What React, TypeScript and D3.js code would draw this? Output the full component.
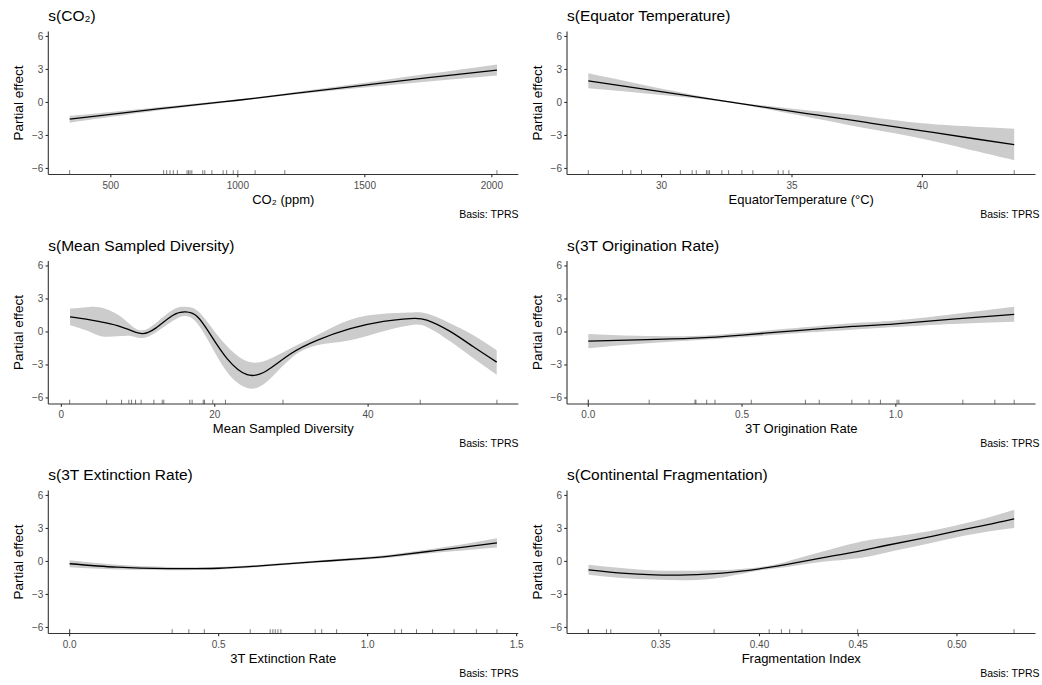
import React from "react";
import * as d3 from "d3";

// ---------- Panel 1: CO2 ----------
const co2X = [338, 500, 750, 1000, 1250, 1500, 1750, 2020];
const co2Fit = [-1.52, -1.08, -0.42, 0.2, 0.9, 1.58, 2.25, 2.94];
const co2Lo = [-1.84, -1.3, -0.54, 0.12, 0.78, 1.36, 1.9, 2.44];
const co2Hi = [-1.22, -0.86, -0.3, 0.28, 1.02, 1.8, 2.6, 3.46];
const co2Rug = [338, 708, 720, 733, 746, 762, 800, 806, 812, 819, 862, 870, 898, 942, 956, 982, 1000, 1068, 1185, 2020];
const co2Ticks = [500, 1000, 1500, 2000];

// ---------- Panel 2: Equator temperature ----------
const eqX = [27.19, 29, 31, 32.6, 34, 36, 38, 40, 42, 43.52];
const eqFit = [1.97, 1.33, 0.62, 0.05, -0.45, -1.16, -1.87, -2.58, -3.3, -3.83];
const eqLo = [1.29, 0.91, 0.45, 0.0, -0.6, -1.51, -2.42, -3.3, -4.4, -5.25];
const eqHi = [2.65, 1.75, 0.79, 0.1, -0.3, -0.81, -1.32, -1.9, -2.2, -2.38];
const eqRug = [27.19, 28.5, 28.82, 29.23, 30.72, 31.17, 31.33, 31.72, 31.78, 31.84, 32.31, 32.57, 33.08, 33.5, 34.47, 34.66, 34.88, 41.33, 43.52];
const eqTicks = [30, 35, 40];

// ---------- Panel 3: Mean sampled diversity ----------
const divX = [1.13, 3.39, 5.12, 7.29, 9.2, 10.6, 12.3, 14.5, 16.19, 17.71, 19.44, 21.61, 24.22, 26.82, 29.86, 33.33, 37.67, 42.01, 45.49, 47.66, 50.69, 53.73, 56.77];
const divFit = [1.37, 1.14, 0.92, 0.58, 0.1, -0.15, 0.35, 1.5, 1.82, 1.4, -0.25, -2.43, -3.89, -3.5, -2.0, -0.76, 0.3, 0.97, 1.22, 1.08, 0.05, -1.35, -2.74];
const divLo = [0.61, 0.1, -0.38, -0.4, -0.38, -0.55, -0.05, 1.0, 1.46, 0.8, -1.15, -3.65, -5.1, -4.5, -2.45, -1.22, -0.76, 0.06, 0.61, 0.46, -0.85, -2.4, -3.89];
const divHi = [2.13, 2.25, 2.22, 1.6, 0.55, 0.15, 0.8, 2.0, 2.28, 1.95, 0.55, -1.3, -2.67, -2.55, -1.5, -0.3, 1.1, 1.65, 1.76, 1.67, 0.8, -0.3, -1.67];
const divRug = [1.08, 5.9, 7.85, 8.8, 9.15, 9.67, 10.4, 12.06, 13.15, 13.36, 16.75, 17.05, 18.5, 18.66, 19.74, 21.4, 28.9, 46.8, 56.8];
const divTicks = [0, 20, 40];

// ---------- Panel 4: 3T origination rate ----------
const orgX = [0, 0.16, 0.345, 0.5, 0.7, 0.86, 1.0, 1.185, 1.385];
const orgFit = [-0.83, -0.72, -0.56, -0.28, 0.17, 0.5, 0.74, 1.16, 1.59];
const orgLo = [-1.48, -1.1, -0.76, -0.48, -0.08, 0.2, 0.44, 0.72, 0.92];
const orgHi = [-0.18, -0.34, -0.36, -0.08, 0.42, 0.8, 1.04, 1.6, 2.28];
const orgRug = [0, 0, 0.198, 0.347, 0.35, 0.385, 0.412, 0.53, 0.706, 0.751, 0.857, 0.913, 0.95, 1.004, 1.01, 1.218, 1.322, 1.385];
const orgTicks = [0, 0.5, 1.0];

// ---------- Panel 5: 3T extinction rate ----------
const extX = [0, 0.16, 0.33, 0.5, 0.66, 0.83, 1.0, 1.11, 1.22, 1.33, 1.434];
const extFit = [-0.21, -0.52, -0.65, -0.62, -0.36, -0.02, 0.3, 0.6, 0.96, 1.32, 1.68];
const extLo = [-0.53, -0.74, -0.8, -0.74, -0.46, -0.12, 0.18, 0.45, 0.76, 1.02, 1.26];
const extHi = [0.11, -0.3, -0.5, -0.5, -0.26, 0.08, 0.42, 0.75, 1.16, 1.62, 2.1];
const extRug = [0, 0, 0.344, 0.4, 0.452, 0.606, 0.673, 0.682, 0.69, 0.699, 0.709, 0.824, 0.846, 0.896, 1.091, 1.114, 1.164, 1.218, 1.29, 1.365, 1.434];
const extTicks = [0, 0.5, 1.0, 1.5];

// ---------- Panel 6: Continental fragmentation ----------
const frgX = [0.3134, 0.33, 0.347, 0.364, 0.381, 0.4, 0.414, 0.431, 0.45, 0.464, 0.481, 0.5, 0.515, 0.529];
const frgFit = [-0.77, -1.07, -1.22, -1.22, -1.07, -0.67, -0.27, 0.3, 0.92, 1.45, 2.05, 2.78, 3.33, 3.88];
const frgLo = [-1.22, -1.5, -1.65, -1.7, -1.45, -0.82, -0.5, -0.05, 0.3, 0.8, 1.45, 2.2, 2.7, 3.05];
const frgHi = [-0.3, -0.6, -0.82, -0.85, -0.78, -0.52, 0.0, 0.85, 1.75, 2.15, 2.6, 3.3, 3.95, 4.7];
const frgRug = [0.3133, 0.3133, 0.3225, 0.3247, 0.349, 0.377, 0.4049, 0.4111, 0.4153, 0.4215, 0.4497, 0.5289];
const frgTicks = [0.35, 0.4, 0.45, 0.5];

const yTicks = [-6, -3, 0, 3, 6];

const panels = [
  { title: "s(CO\u2082)", xlab: "CO\u2082 (ppm)", x: co2X, fit: co2Fit, lo: co2Lo, hi: co2Hi, rug: co2Rug, ticks: co2Ticks, fmt: d3.format("d") },
  { title: "s(Equator Temperature)", xlab: "EquatorTemperature (\u00B0C)", x: eqX, fit: eqFit, lo: eqLo, hi: eqHi, rug: eqRug, ticks: eqTicks, fmt: d3.format("d") },
  { title: "s(Mean Sampled Diversity)", xlab: "Mean Sampled Diversity", x: divX, fit: divFit, lo: divLo, hi: divHi, rug: divRug, ticks: divTicks, fmt: d3.format("d") },
  { title: "s(3T Origination Rate)", xlab: "3T Origination Rate", x: orgX, fit: orgFit, lo: orgLo, hi: orgHi, rug: orgRug, ticks: orgTicks, fmt: d3.format(".1f") },
  { title: "s(3T Extinction Rate)", xlab: "3T Extinction Rate", x: extX, fit: extFit, lo: extLo, hi: extHi, rug: extRug, ticks: extTicks, fmt: d3.format(".1f") },
  { title: "s(Continental Fragmentation)", xlab: "Fragmentation Index", x: frgX, fit: frgFit, lo: frgLo, hi: frgHi, rug: frgRug, ticks: frgTicks, fmt: d3.format(".2f") },
];

const FONT = "'Liberation Sans', Arial, Helvetica, sans-serif";
const colX = [48.3, 567];
const colW = [470, 468.5];
const colCaption = [518.5, 1039.5];
const rowTop = [31.5, 261, 490.5];
const plotH = 143;
const AXIS = "#333333";
const TICKTXT = "#4D4D4D";

type P = (typeof panels)[number];

function Panel({ p, col, row }: { p: P; col: number; row: number }) {
  const x0 = colX[col];
  const w = colW[col];
  const y0 = rowTop[row];
  const yb = y0 + plotH;
  const all = [...p.x, ...p.rug];
  const lo = d3.min(all) as number;
  const hi = d3.max(all) as number;
  const pad = (hi - lo) * 0.05;
  const xs = d3.scaleLinear().domain([lo - pad, hi + pad]).range([x0, x0 + w]);
  const ys = d3.scaleLinear().domain([-6.55, 6.45]).range([yb, y0]);
  const pts = p.x.map((v, i) => ({ x: v, f: p.fit[i], lo: p.lo[i], hi: p.hi[i] }));
  const curve = d3.curveNatural;
  const area = d3
    .area<any>()
    .x((d) => xs(d.x))
    .y0((d) => ys(d.lo))
    .y1((d) => ys(d.hi))
    .curve(curve);
  const line = d3
    .line<any>()
    .x((d) => xs(d.x))
    .y((d) => ys(d.f))
    .curve(curve);
  const fmtY = (v: number) => (v < 0 ? "\u2212" + Math.abs(v) : String(v));
  const rugLen = plotH * 0.03;
  return (
    <g>
      <path d={area(pts) || ""} fill="#cccccc" stroke="none" />
      <path d={line(pts) || ""} fill="none" stroke="#000" strokeWidth={1.3} />
      {p.rug.map((r, i) => (
        <line key={"r" + i} x1={xs(r)} x2={xs(r)} y1={yb} y2={yb - rugLen} stroke="#222" strokeWidth={0.6} />
      ))}
      <line x1={x0} x2={x0} y1={y0} y2={yb} stroke={AXIS} strokeWidth={1.1} />
      <line x1={x0} x2={x0 + w} y1={yb} y2={yb} stroke={AXIS} strokeWidth={1.1} />
      {yTicks.map((t) => (
        <g key={"y" + t}>
          <line x1={x0 - 2.75} x2={x0} y1={ys(t)} y2={ys(t)} stroke={AXIS} strokeWidth={1.1} />
          <text x={x0 - 5} y={ys(t) + 3.5} textAnchor="end" fontSize={10} fill={TICKTXT} fontFamily={FONT}>
            {fmtY(t)}
          </text>
        </g>
      ))}
      {p.ticks.map((t) => (
        <g key={"x" + t}>
          <line x1={xs(t)} x2={xs(t)} y1={yb} y2={yb + 2.75} stroke={AXIS} strokeWidth={1.1} />
          <text x={xs(t)} y={yb + 14} textAnchor="middle" fontSize={10} fill={TICKTXT} fontFamily={FONT}>
            {p.fmt(t)}
          </text>
        </g>
      ))}
      <text x={x0 + w / 2} y={yb + 29} textAnchor="middle" fontSize={13} fill="#000" fontFamily={FONT}>
        {p.xlab}
      </text>
      <text
        transform={`translate(${x0 - 25},${(y0 + yb) / 2}) rotate(-90)`}
        textAnchor="middle"
        fontSize={13.5}
        fill="#000"
        fontFamily={FONT}
      >
        Partial effect
      </text>
      <text x={x0} y={y0 - 10.5} fontSize={15.5} fill="#000" fontFamily={FONT}>
        {p.title}
      </text>
      <text x={colCaption[col]} y={yb + 43} textAnchor="end" fontSize={10.5} fill="#000" fontFamily={FONT}>
        Basis: TPRS
      </text>
    </g>
  );
}

export default function App() {
  return (
    <svg width={1042} height={685} style={{ position: "absolute", left: 0, top: 0, background: "#fff" }}>
      <rect width={1042} height={685} fill="#fff" />
      {panels.map((p, i) => (
        <Panel key={i} p={p} col={i % 2} row={Math.floor(i / 2)} />
      ))}
    </svg>
  );
}
